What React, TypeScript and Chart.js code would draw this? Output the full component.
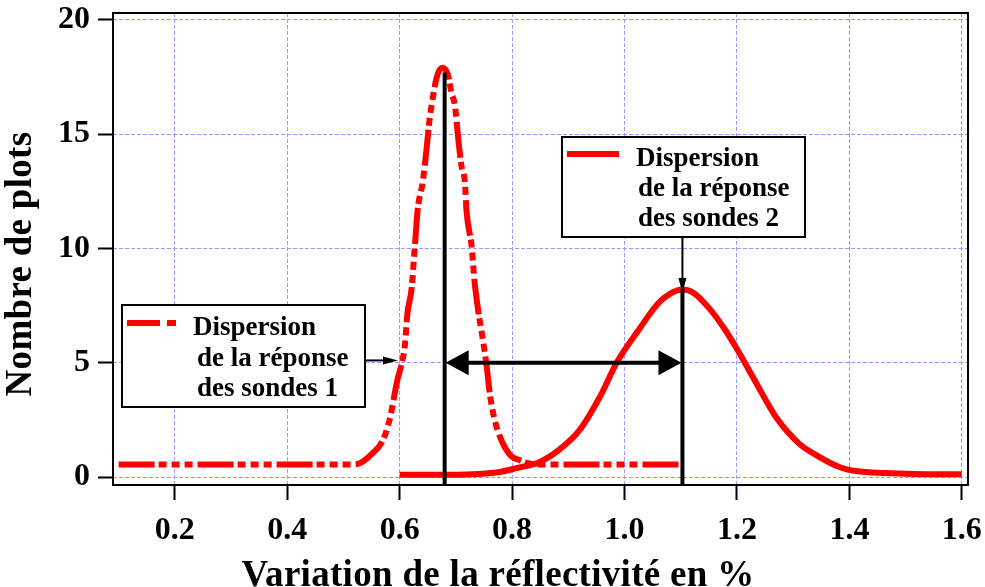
import React, { useEffect, useRef } from "react";
import { Chart, registerables } from "chart.js";

Chart.register(...registerables);

// ---- Axis ticks ----
const xTicks = [0.2, 0.4, 0.6, 0.8, 1.0, 1.2, 1.4, 1.6];
const xTickLabels = ["0.2", "0.4", "0.6", "0.8", "1.0", "1.2", "1.4", "1.6"];
const yTicks = [0, 5, 10, 15, 20];
const yTickLabels = ["0", "5", "10", "15", "20"];

// ---- Series 1 : dispersion de la réponse des sondes 1 (dash-dot) ----
const sonde1X = [0.1, 0.2, 0.3, 0.4, 0.5, 0.516, 0.529, 0.55, 0.57, 0.582, 0.596, 0.604, 0.609, 0.614, 0.621, 0.627, 0.632, 0.641, 0.648, 0.653, 0.659, 0.666, 0.676, 0.687, 0.692, 0.698, 0.705, 0.71, 0.716, 0.719, 0.728, 0.733, 0.739, 0.748, 0.755, 0.76, 0.769, 0.783, 0.799, 0.812, 0.826, 0.85, 0.9, 1.0, 1.1];
const sonde1Y = [0.55, 0.55, 0.55, 0.55, 0.55, 0.55, 0.6, 1.0, 1.6, 2.5, 4.25, 5.0, 5.7, 7.2, 8.2, 10.1, 11.7, 12.9, 14.4, 15.6, 16.6, 17.5, 17.9, 17.5, 16.8, 16.3, 14.6, 13.6, 12.9, 11.6, 10.1, 8.6, 7.4, 6.0, 4.8, 3.7, 2.5, 1.5, 0.9, 0.75, 0.62, 0.55, 0.55, 0.55, 0.55];

// ---- Series 2 : dispersion de la réponse des sondes 2 (solid) ----
const sonde2X = [0.6, 0.7, 0.739, 0.778, 0.808, 0.849, 0.884, 0.92, 0.956, 0.986, 1.027, 1.06, 1.08, 1.103, 1.12, 1.15, 1.18, 1.2, 1.23, 1.27, 1.311, 1.341, 1.382, 1.412, 1.466, 1.5, 1.55, 1.6];
const sonde2Y = [0.1, 0.1, 0.13, 0.22, 0.39, 0.66, 1.2, 2.05, 3.5, 5.0, 6.5, 7.6, 8.0, 8.2, 8.1, 7.4, 6.4, 5.6, 4.3, 2.6, 1.45, 0.96, 0.44, 0.26, 0.17, 0.14, 0.12, 0.12];

// ---- Annotation values ----
const marker1X = 0.68;
const marker1Top = 17.7;
const marker2X = 1.103;
const marker2Top = 8.2;
const arrowY = 5;
const note1Tip = { x: 0.597, y: 5.1 };
const note2Tip = { x: 1.103, y: 8.05 };

const xTitle = "Variation de la réflectivité en %";
const yTitle = "Nombre de plots";
const legend1Lines = ["Dispersion", "de la réponse", "des sondes 1"];
const legend2Lines = ["Dispersion", "de la réponse", "des sondes 2"];

const SERIF = '"Liberation Serif", "Times New Roman", serif';

function arrowHead(ctx: CanvasRenderingContext2D, tipX: number, tipY: number, dx: number, dy: number, len: number, half: number) {
  const bx = tipX - dx * len;
  const by = tipY - dy * len;
  const px = -dy, py = dx;
  ctx.beginPath();
  ctx.moveTo(tipX, tipY);
  ctx.lineTo(bx + px * half, by + py * half);
  ctx.lineTo(bx - px * half, by - py * half);
  ctx.closePath();
  ctx.fill();
}

function seg(ctx: CanvasRenderingContext2D, x1: number, y1: number, x2: number, y2: number) {
  ctx.beginPath();
  ctx.moveTo(x1, y1);
  ctx.lineTo(x2, y2);
  ctx.stroke();
}

const annotatePlugin = {
  id: "annotate",
  afterDatasetsDraw(chart: any) {
    const { ctx, chartArea: ca } = chart;
    const xs = chart.scales.x;
    const ys = chart.scales.y;
    const px = (v: number) => xs.getPixelForValue(v);
    const py = (v: number) => ys.getPixelForValue(v);
    ctx.save();
    ctx.strokeStyle = "#000";
    ctx.fillStyle = "#000";
    ctx.setLineDash([]);

    // vertical markers
    ctx.lineWidth = 4;
    seg(ctx, px(marker1X), ca.bottom, px(marker1X), py(marker1Top));
    seg(ctx, px(marker2X), ca.bottom, px(marker2X), py(marker2Top));

    // double arrow
    const ay = py(arrowY);
    const a1 = px(marker1X) + 1;
    const a2 = px(marker2X) - 1;
    ctx.lineWidth = 4;
    seg(ctx, a1 + 15, ay, a2 - 15, ay);
    arrowHead(ctx, a1, ay, -1, 0, 23, 12.5);
    arrowHead(ctx, a2, ay, 1, 0, 23, 12.5);

    // legend boxes
    const drawBox = (bx: number, by: number, bw: number, bh: number) => {
      ctx.fillStyle = "#fff";
      ctx.fillRect(bx, by, bw, bh);
      ctx.strokeStyle = "#000";
      ctx.lineWidth = 2;
      ctx.strokeRect(bx, by, bw, bh);
    };
    drawBox(122, 305, 243, 102);
    drawBox(562, 137, 243, 100);

    // samples
    ctx.strokeStyle = "#ff0000";
    ctx.lineWidth = 6;
    ctx.setLineDash([33, 7, 9, 40]);
    seg(ctx, 127, 323, 176, 323);
    ctx.setLineDash([]);
    seg(ctx, 567, 154, 619, 154);

    // legend text
    ctx.fillStyle = "#000";
    ctx.font = `bold 27px ${SERIF}`;
    ctx.textAlign = "left";
    ctx.textBaseline = "alphabetic";
    ctx.fillText(legend1Lines[0], 193, 335);
    ctx.fillText(legend1Lines[1], 197, 366);
    ctx.fillText(legend1Lines[2], 197, 396);
    ctx.fillText(legend2Lines[0], 636, 166);
    ctx.fillText(legend2Lines[1], 638, 196);
    ctx.fillText(legend2Lines[2], 638, 226);

    // pointer arrows
    ctx.strokeStyle = "#000";
    ctx.lineWidth = 2;
    const t1x = px(note1Tip.x), t1y = py(note1Tip.y);
    seg(ctx, 366, t1y, t1x - 10, t1y);
    arrowHead(ctx, t1x, t1y, 1, 0, 15, 4);
    const t2x = px(note2Tip.x), t2y = py(note2Tip.y);
    seg(ctx, t2x, 238, t2x, t2y - 10);
    arrowHead(ctx, t2x, t2y, 0, 1, 15, 4);

    // frame
    ctx.lineWidth = 2;
    ctx.strokeStyle = "#000";
    ctx.strokeRect(ca.left, ca.top, ca.right - ca.left, ca.bottom - ca.top);

    // axis titles
    ctx.fillStyle = "#000";
    ctx.font = `bold 37px ${SERIF}`;
    (ctx as any).letterSpacing = "0.3px";
    ctx.textAlign = "center";
    ctx.textBaseline = "alphabetic";
    ctx.fillText(xTitle, 498, 586);
    ctx.save();
    ctx.translate(31, 264);
    ctx.rotate(-Math.PI / 2);
    ctx.fillText(yTitle, 0, 0);
    ctx.restore();
    (ctx as any).letterSpacing = "0px";

    ctx.restore();
  },
};

export default function App() {
  const ref = useRef<HTMLCanvasElement | null>(null);
  useEffect(() => {
    if (!ref.current) return;
    const chart = new Chart(ref.current, {
      type: "scatter",
      data: {
        datasets: [
          {
            label: "Dispersion de la réponse des sondes 1",
            data: sonde1X.map((x, i) => ({ x, y: sonde1Y[i] })),
            showLine: true,
            borderColor: "#ff0000",
            backgroundColor: "#ff0000",
            borderWidth: 6,
            borderDash: [36, 4, 8, 5, 8, 5, 8, 5],
            pointRadius: 0,
            cubicInterpolationMode: "monotone",
          },
          {
            label: "Dispersion de la réponse des sondes 2",
            data: sonde2X.map((x, i) => ({ x, y: sonde2Y[i] })),
            showLine: true,
            borderColor: "#ff0000",
            backgroundColor: "#ff0000",
            borderWidth: 6,
            pointRadius: 0,
            cubicInterpolationMode: "monotone",
          },
        ],
      },
      options: {
        responsive: false,
        animation: false,
        devicePixelRatio: 1,
        layout: { padding: { left: 0, right: 17, top: 13, bottom: 0 } },
        plugins: { legend: { display: false }, tooltip: { enabled: false } },
        scales: {
          x: {
            type: "linear",
            min: 0.09,
            max: 1.611,
            afterBuildTicks: (s: any) => {
              s.ticks = xTicks.map((v) => ({ value: v }));
            },
            afterFit: (s: any) => {
              s.height = 102;
              s.paddingLeft = 0;
              s.paddingRight = 0;
            },
            ticks: {
              autoSkip: false,
              maxRotation: 0,
              padding: 12,
              color: "#000",
              font: { family: SERIF, size: 32, weight: "bold" },
              callback: (v: any) => {
                const i = xTicks.findIndex((t) => Math.abs(t - Number(v)) < 1e-6);
                return i >= 0 ? xTickLabels[i] : "";
              },
            },
            grid: {
              color: "#9a9aff",
              lineWidth: 1,
              tickColor: "#000",
              tickWidth: 2,
              tickLength: 15,
            },
            border: { display: false, dash: [4, 2] },
          },
          y: {
            type: "linear",
            min: -0.35,
            max: 20.3,
            afterBuildTicks: (s: any) => {
              s.ticks = yTicks.map((v) => ({ value: v }));
            },
            afterFit: (s: any) => {
              s.width = 113;
              s.paddingTop = 0;
              s.paddingBottom = 0;
            },
            ticks: {
              autoSkip: false,
              padding: 8,
              color: "#000",
              font: { family: SERIF, size: 32, weight: "bold" },
              callback: (v: any) => {
                const i = yTicks.findIndex((t) => Math.abs(t - Number(v)) < 1e-6);
                return i >= 0 ? yTickLabels[i] : "";
              },
            },
            grid: {
              color: "#9a9aff",
              lineWidth: 1,
              tickColor: "#000",
              tickWidth: 2,
              tickLength: 15,
            },
            border: { display: false, dash: [4, 2] },
          },
        },
      },
      plugins: [annotatePlugin],
    } as any);
    return () => chart.destroy();
  }, []);
  return (
    <div style={{ position: "absolute", left: 0, top: 0, width: 985, height: 587, background: "#fff" }}>
      <canvas ref={ref} width={985} height={587} />
    </div>
  );
}
